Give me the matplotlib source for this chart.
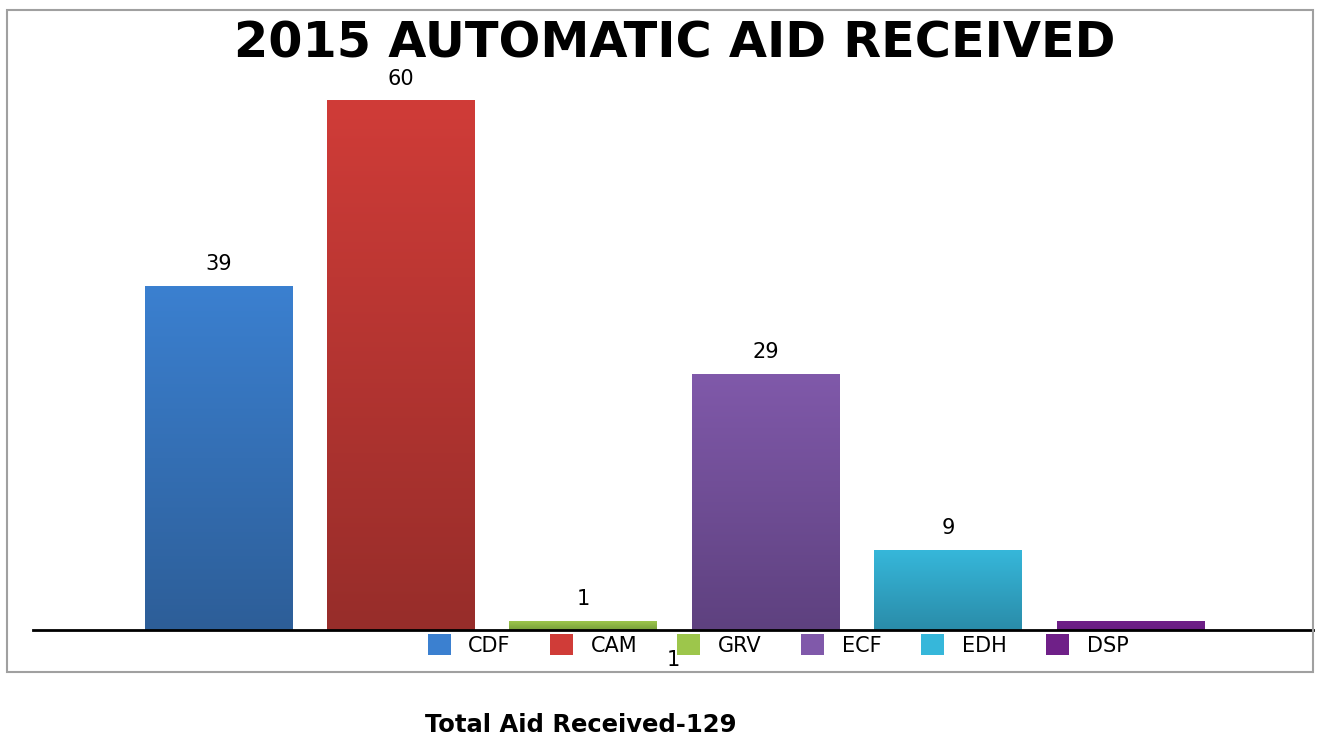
import matplotlib.pyplot as plt
import numpy as np
from matplotlib.colors import LinearSegmentedColormap
from matplotlib.patches import Rectangle

CATEGORIES = ["CDF", "CAM", "GRV", "ECF", "EDH", "DSP"]
VALUES = [39, 60, 1, 29, 9, 1]
TOTAL = 129

# (top colour, bottom colour) of each bar's vertical gradient
TOP_COLORS = ["#3b80d0", "#d03c38", "#9dc64b", "#8059aa", "#36b7da", "#6f2088"]
BOTTOM_COLORS = ["#2d5e98", "#972d2a", "#77a03a", "#5e417f", "#2a8ca9", "#6a1e84"]

W, H = 1323, 739
fig = plt.figure(figsize=(W / 100, H / 100), dpi=100)
ax = fig.add_axes([33 / W, 1 - 630 / H, 1280 / W, 620 / H])

x = np.arange(len(CATEGORIES))
bw = 0.81
grad = np.linspace(1, 0, 256).reshape(-1, 1)
for xi, v, c0, c1 in zip(x, VALUES, TOP_COLORS, BOTTOM_COLORS):
    cmap = LinearSegmentedColormap.from_list("g", [c1, c0])
    ax.imshow(grad, cmap=cmap, aspect="auto", vmin=0, vmax=1,
              extent=(xi - bw / 2, xi + bw / 2, 0, v), zorder=2)

for xi, v in zip(x[:-1], VALUES[:-1]):
    ax.annotate(str(v), (xi, v), xytext=(0, 16), textcoords="offset points",
                ha="center", va="center", fontsize=15)

ax.set_xlim(-1.017, 6.0)
ax.set_ylim(0, 70.3)
ax.axhline(0, color="black", lw=2, zorder=3, clip_on=False)
for s in ax.spines.values():
    s.set_visible(False)
ax.set_xticks([])
ax.set_yticks([])

# outer frame
fig.patches.append(Rectangle((7 / W, 1 - 672 / H), 1306 / W, 662 / H,
                             transform=fig.transFigure, fill=False,
                             edgecolor="#a0a0a0", lw=1.5))

fig.text(675 / W, 1 - 43 / H, "2015 AUTOMATIC AID RECEIVED",
         ha="center", va="center", fontsize=35.5, fontweight="bold")

# legend row
handles = [Rectangle((0, 0), 1, 1, facecolor=c) for c in TOP_COLORS]
fig.legend(handles, CATEGORIES, loc="center", ncol=6,
           bbox_to_anchor=(778 / W, 1 - 645 / H), frameon=False,
           fontsize=15, handlelength=1.1, handleheight=1.15,
           handletextpad=0.85, columnspacing=1.9)

# misplaced DSP data label
fig.text(673 / W, 1 - 660 / H, str(VALUES[-1]), ha="center", va="center",
         fontsize=15)

fig.text(581 / W, 1 - 725 / H, f"Total Aid Received-{TOTAL}",
         ha="center", va="center", fontsize=17.5, fontweight="bold")

fig.savefig("out.png", dpi=100)
